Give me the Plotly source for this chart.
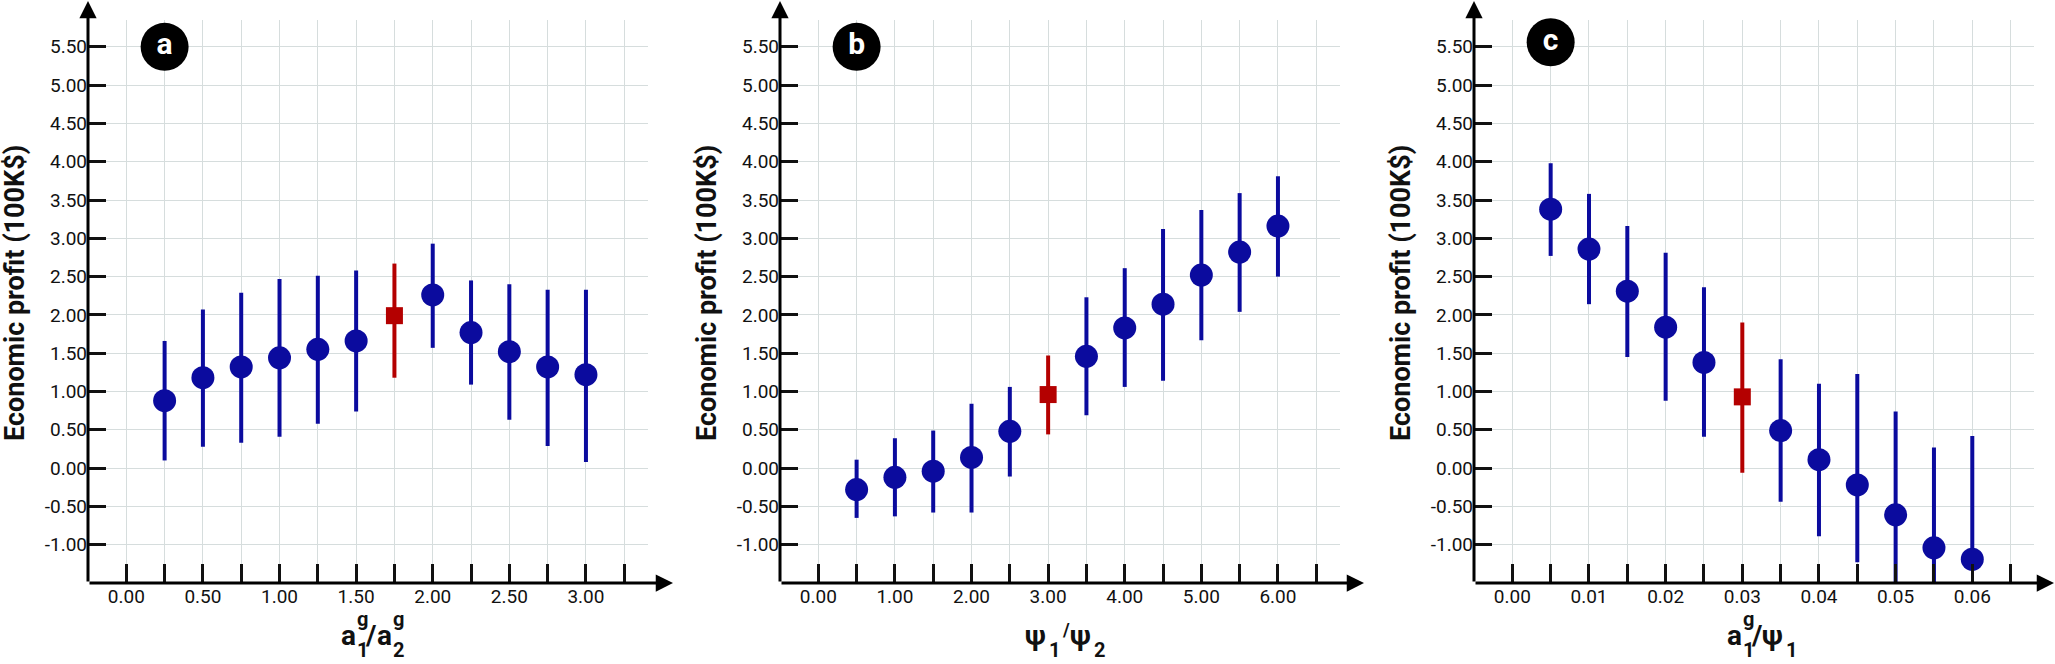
import plotly.graph_objects as go

# economic profit (100K$): mean, upper and lower end of each bar
a_x = [0.25, 0.50, 0.75, 1.00, 1.25, 1.50, 1.75, 2.00, 2.25, 2.50, 2.75, 3.00]
a_mean = [0.88, 1.18, 1.32, 1.44, 1.55, 1.66, 1.99, 2.26, 1.77, 1.52, 1.32, 1.22]
a_upper = [1.66, 2.07, 2.29, 2.47, 2.51, 2.58, 2.67, 2.93, 2.45, 2.40, 2.33, 2.33]
a_lower = [0.10, 0.28, 0.33, 0.41, 0.58, 0.74, 1.18, 1.57, 1.09, 0.63, 0.29, 0.08]
a_base = 1.75

b_x = [0.5, 1.0, 1.5, 2.0, 2.5, 3.0, 3.5, 4.0, 4.5, 5.0, 5.5, 6.0]
b_mean = [-0.28, -0.12, -0.04, 0.14, 0.48, 0.96, 1.46, 1.83, 2.14, 2.52, 2.82, 3.16]
b_upper = [0.11, 0.39, 0.49, 0.84, 1.06, 1.47, 2.23, 2.61, 3.12, 3.37, 3.59, 3.81]
b_lower = [-0.65, -0.63, -0.58, -0.58, -0.11, 0.44, 0.69, 1.06, 1.14, 1.67, 2.04, 2.50]
b_base = 3.0

c_x = [0.005, 0.010, 0.015, 0.020, 0.025, 0.030, 0.035, 0.040, 0.045, 0.050, 0.055, 0.060]
c_mean = [3.38, 2.86, 2.31, 1.84, 1.38, 0.93, 0.49, 0.11, -0.22, -0.61, -1.04, -1.19]
c_upper = [3.98, 3.58, 3.16, 2.81, 2.36, 1.90, 1.42, 1.10, 1.23, 0.74, 0.27, 0.42]
c_lower = [2.77, 2.14, 1.45, 0.88, 0.41, -0.06, -0.44, -0.89, -1.23, -1.60, -1.70, -1.30]
c_base = 0.030

# tick labels
y_ticks = [-1.0, -0.5, 0.0, 0.5, 1.0, 1.5, 2.0, 2.5, 3.0, 3.5, 4.0, 4.5, 5.0, 5.5]
y_labels = ["-1.00", "-0.50", "0.00", "0.50", "1.00", "1.50", "2.00",
            "2.50", "3.00", "3.50", "4.00", "4.50", "5.00", "5.50"]
a_ticks = [0.0, 0.5, 1.0, 1.5, 2.0, 2.5, 3.0]
a_labels = ["0.00", "0.50", "1.00", "1.50", "2.00", "2.50", "3.00"]
b_ticks = [0, 1, 2, 3, 4, 5, 6]
b_labels = ["0.00", "1.00", "2.00", "3.00", "4.00", "5.00", "6.00"]
c_ticks = [0.00, 0.01, 0.02, 0.03, 0.04, 0.05, 0.06]
c_labels = ["0.00", "0.01", "0.02", "0.03", "0.04", "0.05", "0.06"]

y_title = "Economic profit (100K$)"

W, H = 2055, 664
BLUE = "#0b0b9e"
RED = "#b40000"
INK = "#111111"
GRID = "#d6dddd"
FONT = "Roboto"

# pixel layout of each panel: left edge, right edge, minor step, range, panel letter pos
Y_TOP, Y_BOT = 20, 583
panels = [
    dict(name="a", left=88, right=648, step=0.25, rng=[-0.25, 3.405],
         x=a_x, mean=a_mean, upper=a_upper, lower=a_lower, base=a_base,
         ticks=a_ticks, labels=a_labels, tip=673, tag=(0.25, 5.5),
         title=[("a", 28, 0, 645), ("g", 20, 16, 626), ("1", 20, 16, 657),
                ("/", 28, 24, 645), ("a", 28, 36, 645), ("g", 20, 52, 626),
                ("2", 20, 52, 657)], tw=65),
    dict(name="b", left=780, right=1340, step=0.5, rng=[-0.5, 6.81],
         x=b_x, mean=b_mean, upper=b_upper, lower=b_lower, base=b_base,
         ticks=b_ticks, labels=b_labels, tip=1364, tag=(0.5, 5.5),
         title=[("ψ", 28, 0, 645), ("1", 20, 24, 657), ("/", 18, 37, 636),
                ("ψ", 28, 45, 645), ("2", 20, 69, 657)], tw=81),
    dict(name="c", left=1474, right=2034, step=0.005, rng=[-0.005, 0.06805],
         x=c_x, mean=c_mean, upper=c_upper, lower=c_lower, base=c_base,
         ticks=c_ticks, labels=c_labels, tip=2054, tag=(0.005, 5.56),
         title=[("a", 28, 0, 645), ("g", 20, 16, 626), ("1", 20, 16, 657),
                ("/", 28, 24, 645), ("ψ", 28, 35, 645), ("1", 20, 59, 657)], tw=66),
]

fig = go.Figure()

for i, p in enumerate(panels):
    n = "" if i == 0 else str(i + 1)
    xa, ya = "x" + n, "y" + n
    tickfont = dict(family=FONT, size=19, color=INK)

    fig.update_layout({
        "xaxis" + n: dict(
            domain=[p["left"] / W, p["right"] / W], range=p["rng"], anchor=ya,
            showline=False, zeroline=False, showgrid=True, gridcolor=GRID, gridwidth=1,
            tickmode="array", tickvals=p["ticks"], ticktext=p["labels"],
            ticks="inside", ticklen=19, tickwidth=2.5, tickcolor=INK, tickfont=tickfont,
            minor=dict(tickmode="linear", tick0=0, dtick=p["step"], ticks="inside",
                       ticklen=19, tickwidth=2.5, tickcolor=INK,
                       showgrid=True, gridcolor=GRID, gridwidth=1),
        ),
        "yaxis" + n: dict(
            domain=[1 - Y_BOT / H, 1 - Y_TOP / H], range=[-1.5, 5.85], anchor=xa,
            showline=False, zeroline=False, showgrid=True, gridcolor=GRID, gridwidth=1,
            tickmode="array", tickvals=y_ticks, ticktext=y_labels,
            ticks="inside", ticklen=18, tickwidth=2.5, tickcolor=INK, tickfont=tickfont,
        ),
    })

    # blue points and the red baseline point
    for is_base in (False, True):
        idx = [k for k, v in enumerate(p["x"]) if (abs(v - p["base"]) < 1e-9) == is_base]
        xs = [p["x"][k] for k in idx]
        ys = [p["mean"][k] for k in idx]
        up = [p["upper"][k] - p["mean"][k] for k in idx]
        dn = [p["mean"][k] - p["lower"][k] for k in idx]
        col = RED if is_base else BLUE
        fig.add_trace(go.Scatter(
            x=xs, y=ys, mode="markers", xaxis=xa, yaxis=ya, showlegend=False,
            marker=dict(size=17 if is_base else 23, color=col,
                        symbol="square" if is_base else "circle", line=dict(width=0)),
            error_y=dict(type="data", symmetric=False, array=up, arrayminus=dn,
                         thickness=4, width=0, color=col),
        ))

    # panel letter in a black disc
    fig.add_trace(go.Scatter(
        x=[p["tag"][0]], y=[p["tag"][1]], mode="markers+text", text=[p["name"]],
        textposition="middle center", xaxis=xa, yaxis=ya, showlegend=False,
        hoverinfo="skip", cliponaxis=False,
        marker=dict(size=48, color="black"),
        textfont=dict(family=FONT, size=30, color="white", weight="bold"),
    ))

    # axis lines with arrow heads
    fig.add_annotation(xref="paper", yref="paper", x=p["tip"] / W, y=1 - Y_BOT / H,
                       ax=-(p["tip"] - p["left"]), ay=0, axref="pixel", ayref="pixel",
                       showarrow=True, arrowhead=2, arrowsize=1.15, arrowwidth=3,
                       arrowcolor="black", text="")
    fig.add_annotation(xref="paper", yref="paper", x=p["left"] / W, y=1 - 1 / H,
                       ax=0, ay=Y_BOT - 1, axref="pixel", ayref="pixel",
                       showarrow=True, arrowhead=2, arrowsize=1.15, arrowwidth=3,
                       arrowcolor="black", text="")

    # y title
    fig.add_annotation(xref="paper", yref="paper", x=(p["left"] - 73) / W,
                       y=1 - 293 / H, text=y_title, textangle=-90, showarrow=False,
                       xanchor="center", yanchor="middle",
                       font=dict(family=FONT, size=27, color=INK, weight="bold"))

    # x title built from pieces so that super- and subscripts stack
    start = (p["left"] + p["right"]) / 2 + 5 - p["tw"] / 2
    for txt, size, off, base in p["title"]:
        fig.add_annotation(xref="paper", yref="paper", x=(start + off - 1.5) / W,
                           y=1 - (base - 0.342 * size) / H, text=txt, showarrow=False,
                           xanchor="left", yanchor="middle",
                           font=dict(family=FONT, size=size, color=INK, weight="bold"))

fig.update_layout(
    width=W, height=H, margin=dict(l=0, r=0, t=0, b=0),
    paper_bgcolor="white", plot_bgcolor="white",
    font=dict(family=FONT, color=INK),
)

fig.write_html("out.html", config={"displayModeBar": False},
               post_script="document.body.style.margin='0';")
